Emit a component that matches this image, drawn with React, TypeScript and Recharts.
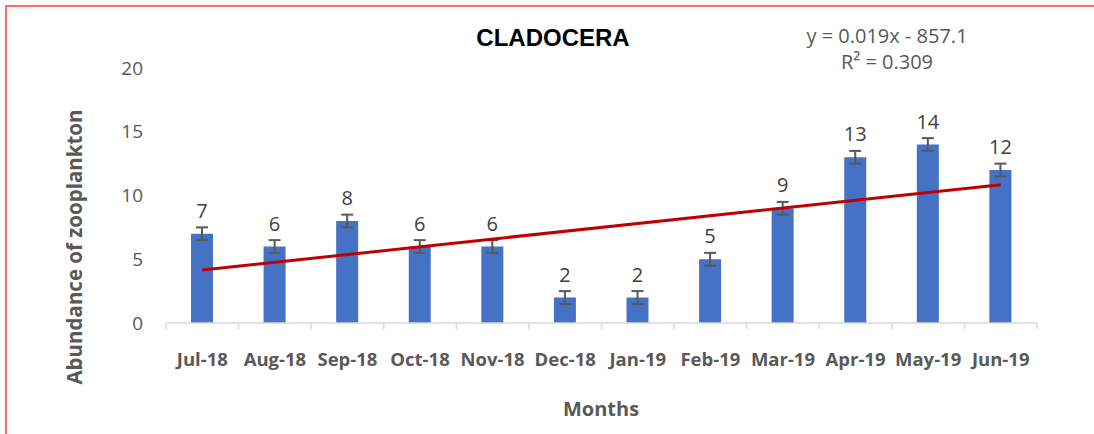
import React from 'react';
import { ComposedChart, Bar, Line, XAxis, YAxis, ErrorBar, LabelList } from 'recharts';

const months = ['Jul-18', 'Aug-18', 'Sep-18', 'Oct-18', 'Nov-18', 'Dec-18', 'Jan-19', 'Feb-19', 'Mar-19', 'Apr-19', 'May-19', 'Jun-19'];
const abundance = [7, 6, 8, 6, 6, 2, 2, 5, 9, 13, 14, 12];
const errors = [0.5, 0.5, 0.5, 0.5, 0.5, 0.5, 0.5, 0.5, 0.5, 0.5, 0.5, 0.5];
// linear trendline endpoints (first and last month)
const trend = [4.15, null, null, null, null, null, null, null, null, null, null, 10.85];
const yTicks = [0, 5, 10, 15, 20];

const data = months.map((m, i) => ({ month: m, value: abundance[i], err: errors[i], trend: trend[i] }));

const FONT = '"Open Sans", sans-serif';
const GREY = '#595959';

const MonthTick = (props: any) => {
  const { x, y, payload, index } = props;
  const half = payload && payload.offset ? payload.offset : 36.3;
  return (
    <g>
      <line x1={x - half} y1={y} x2={x - half} y2={y + 6} stroke="#d9d9d9" strokeWidth={1.5} />
      {index === months.length - 1 && (
        <line x1={x + half} y1={y} x2={x + half} y2={y + 6} stroke="#d9d9d9" strokeWidth={1.5} />
      )}
      <text x={x} y={y + 43} textAnchor="middle" fill={GREY} fontFamily={FONT} fontWeight="bold" fontSize={18.5}>
        {payload.value}
      </text>
    </g>
  );
};

const App = () => {
  return (
    <div style={{ position: 'absolute', left: 0, top: 0, width: 1094, height: 434, overflow: 'hidden', background: '#fff' }}>
      <div style={{ position: 'absolute', left: 5, top: 5, width: 1100, height: 440, border: '2px solid #ff6b6b', boxSizing: 'border-box' }} />
      <ComposedChart width={1094} height={434} data={data} margin={{ top: 68, right: 57, bottom: 0, left: 0 }}>
        <XAxis
          dataKey="month"
          height={111}
          tickSize={0}
          tickMargin={0}
          interval={0}
          stroke="#d9d9d9"
          strokeWidth={1.5}
          tick={<MonthTick />}
        />
        <YAxis
          type="number"
          domain={[0, 20]}
          ticks={yTicks}
          width={166}
          axisLine={false}
          tickLine={false}
          tickSize={0}
          tickMargin={23}
          tick={{ fill: GREY, fontFamily: FONT, fontSize: 19 }}
        />
        <Bar dataKey="value" fill="#4472c4" barSize={22} isAnimationActive={false}>
          <ErrorBar dataKey="err" width={6} stroke={GREY} strokeWidth={2} direction="y" />
          <LabelList dataKey="value" position="top" offset={16} fill="#404040" fontFamily={FONT} fontSize={20} />
        </Bar>
        <Line
          dataKey="trend"
          type="linear"
          stroke="#c00000"
          strokeWidth={3}
          dot={false}
          connectNulls
          isAnimationActive={false}
        />
      </ComposedChart>
      <div style={{ position: 'absolute', left: 553, top: 38, transform: 'translate(-50%, -50%)', fontFamily: '"Liberation Sans", Arial, sans-serif', fontWeight: 'bold', fontSize: 24, color: '#000', whiteSpace: 'nowrap' }}>
        CLADOCERA
      </div>
      <div style={{ position: 'absolute', left: 887, top: 49, transform: 'translate(-50%, -50%)', fontFamily: FONT, fontSize: 20, color: GREY, whiteSpace: 'nowrap', textAlign: 'center', lineHeight: '26px' }}>
        y = 0.019x - 857.1
        <br />
        R² = 0.309
      </div>
      <div style={{ position: 'absolute', left: 74, top: 247, transform: 'translate(-50%, -50%) rotate(-90deg)', fontFamily: FONT, fontWeight: 'bold', fontSize: 20.5, color: GREY, whiteSpace: 'nowrap' }}>
        Abundance of zooplankton
      </div>
      <div style={{ position: 'absolute', left: 601, top: 408, transform: 'translate(-50%, -50%)', fontFamily: FONT, fontWeight: 'bold', fontSize: 20, color: GREY, whiteSpace: 'nowrap' }}>
        Months
      </div>
    </div>
  );
};

export default App;
